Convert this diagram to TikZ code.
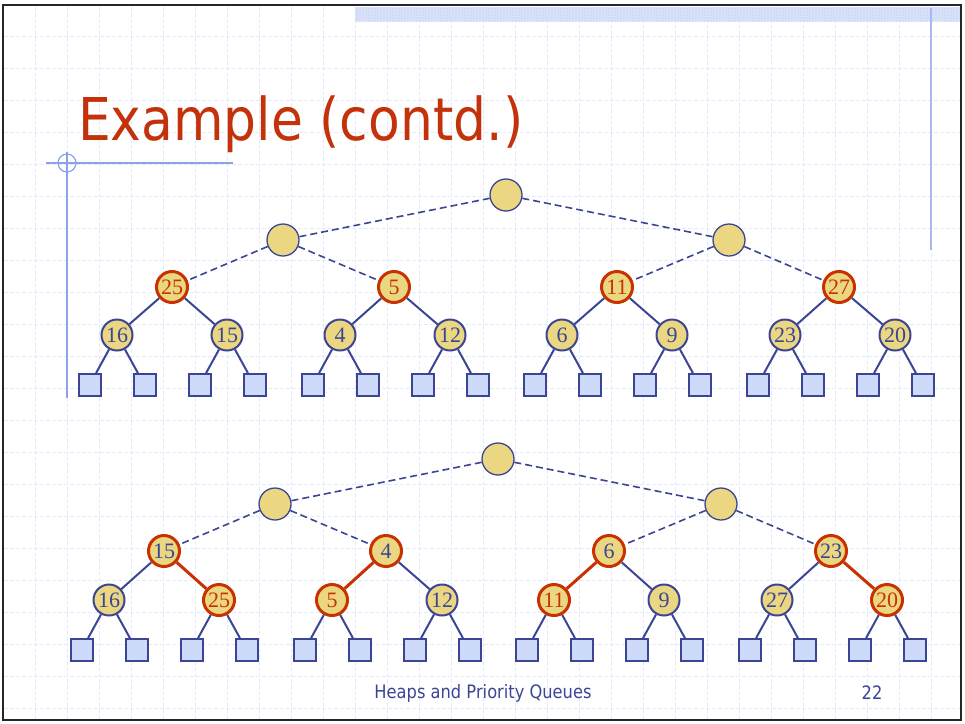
\documentclass[tikz,border=0pt]{standalone}
\usepackage{xcolor}
\usepackage{fontspec}
\setmainfont{Liberation Serif}
\newfontfamily\slidefont[FakeStretch=0.88]{DejaVu Sans}
\usepackage{tikz}
\usetikzlibrary{patterns}

\definecolor{navy}{RGB}{59,69,148}
\definecolor{keyred}{RGB}{200,50,0}
\definecolor{keyfill}{RGB}{235,215,130}
\definecolor{extfill}{RGB}{205,218,250}
\definecolor{gridblue}{RGB}{228,234,252}
\definecolor{deco}{RGB}{140,160,235}
\definecolor{titlered}{RGB}{195,50,10}

\begin{document}
\begin{tikzpicture}[x=1pt,y=-1pt,line width=2pt,
  gridline/.style={gridblue,line width=0.9pt,dash pattern=on 4pt off 2pt},
  link/.style={draw=navy,line width=2pt},
  merge/.style={draw=navy,line width=1.6pt,dash pattern=on 7pt off 4pt},
  swap/.style={draw=keyred,line width=3pt}]
  \tikzstyle{key}=[circle,draw=navy,line width=2pt,fill=keyfill,minimum size=31pt,inner sep=0pt,text=navy,font=\fontsize{22}{22}\selectfont]
  \tikzstyle{ring}=[key,draw=keyred,line width=3pt]
  \tikzstyle{down}=[ring,text=keyred]
  \tikzstyle{hole}=[circle,draw=navy,line width=1.3pt,fill=keyfill,minimum size=32pt,inner sep=0pt]
  \tikzstyle{ext}=[rectangle,draw=navy,line width=2pt,fill=extfill,minimum size=22pt,inner sep=0pt]

  \useasboundingbox (0,0) rectangle (965,723);

  % slide background
  \foreach \gx in {35,67,...,931} \draw[gridline] (\gx,7) -- (\gx,719);
  \foreach \gy in {36,68,...,708} \draw[gridline] (4,\gy) -- (960,\gy);
  \fill[extfill!55] (355,7) rectangle (960,21);
  \fill[pattern=crosshatch,pattern color=deco!45] (355,7) rectangle (960,21);
  \draw[deco!75,line width=2pt] (931,8) -- (931,250);
  \draw[deco,line width=1.2pt] (46,163) -- (233,163) (67,152) -- (67,398);
  \draw[deco,line width=1.2pt] (67,163) circle (9);
  \draw[black!85,line width=2.5pt] (3,5) rectangle (961,720);

  \node[anchor=base west,inner sep=0pt,text=titlered,font=\slidefont\fontsize{59}{59}\selectfont] (title) at (77,140) {Example (contd.)};

  % before
  \node[hole]	(root1)	at (506,195)	{};
  \node[hole]	(lh1)	at (283,240)	{};
  \node[hole]	(rh1)	at (729,240)	{};
  \node[down]	(a1)	at (172,287)	{25};
  \node[down]	(a2)	at (394,287)	{5};
  \node[down]	(a3)	at (617,287)	{11};
  \node[down]	(a4)	at (839,287)	{27};
  \node[key]	(b1)	at (117,335)	{16};
  \node[key]	(b2)	at (227,335)	{15};
  \node[key]	(b3)	at (340,335)	{4};
  \node[key]	(b4)	at (450,335)	{12};
  \node[key]	(b5)	at (562,335)	{6};
  \node[key]	(b6)	at (672,335)	{9};
  \node[key]	(b7)	at (785,335)	{23};
  \node[key]	(b8)	at (895,335)	{20};

  \path	(root1)	edge	[merge]	(lh1)
		(root1)	edge	[merge]	(rh1)
		(lh1)	edge	[merge]	(a1)
		(lh1)	edge	[merge]	(a2)
		(rh1)	edge	[merge]	(a3)
		(rh1)	edge	[merge]	(a4)
		(a1)	edge	[link]	(b1)
		(a1)	edge	[link]	(b2)
		(a2)	edge	[link]	(b3)
		(a2)	edge	[link]	(b4)
		(a3)	edge	[link]	(b5)
		(a3)	edge	[link]	(b6)
		(a4)	edge	[link]	(b7)
		(a4)	edge	[link]	(b8);

  \foreach \k/\x in {1/117,2/227,3/340,4/450,5/562,6/672,7/785,8/895}{
    \node[ext] (e\k a) at (\x-27.5,385) {};
    \node[ext] (e\k b) at (\x+27.5,385) {};
    \path (b\k) edge[link] (e\k a) edge[link] (e\k b);
  }

  % after downheap
  \node[hole]	(root2)	at (498,459)	{};
  \node[hole]	(lh2)	at (275,504)	{};
  \node[hole]	(rh2)	at (721,504)	{};
  \node[ring]	(c1)	at (164,551)	{15};
  \node[ring]	(c2)	at (386,551)	{4};
  \node[ring]	(c3)	at (609,551)	{6};
  \node[ring]	(c4)	at (831,551)	{23};
  \node[key]	(d1)	at (109,600)	{16};
  \node[down]	(d2)	at (219,600)	{25};
  \node[down]	(d3)	at (332,600)	{5};
  \node[key]	(d4)	at (442,600)	{12};
  \node[down]	(d5)	at (554,600)	{11};
  \node[key]	(d6)	at (664,600)	{9};
  \node[key]	(d7)	at (777,600)	{27};
  \node[down]	(d8)	at (887,600)	{20};

  \path	(root2)	edge	[merge]	(lh2)
		(root2)	edge	[merge]	(rh2)
		(lh2)	edge	[merge]	(c1)
		(lh2)	edge	[merge]	(c2)
		(rh2)	edge	[merge]	(c3)
		(rh2)	edge	[merge]	(c4)
		(c1)	edge	[link]	(d1)
		(c1)	edge	[swap]	(d2)
		(c2)	edge	[swap]	(d3)
		(c2)	edge	[link]	(d4)
		(c3)	edge	[swap]	(d5)
		(c3)	edge	[link]	(d6)
		(c4)	edge	[link]	(d7)
		(c4)	edge	[swap]	(d8);

  \foreach \k/\x in {1/109,2/219,3/332,4/442,5/554,6/664,7/777,8/887}{
    \node[ext] (f\k a) at (\x-27.5,650) {};
    \node[ext] (f\k b) at (\x+27.5,650) {};
    \path (d\k) edge[link] (f\k a) edge[link] (f\k b);
  }

  \node[text=navy,font=\slidefont\fontsize{18.5}{18.5}\selectfont] (foot) at (483,693) {Heaps and Priority Queues};
  \node[text=navy,font=\slidefont\fontsize{18.5}{18.5}\selectfont] (page) at (872,693) {22};
\end{tikzpicture}
\end{document}
